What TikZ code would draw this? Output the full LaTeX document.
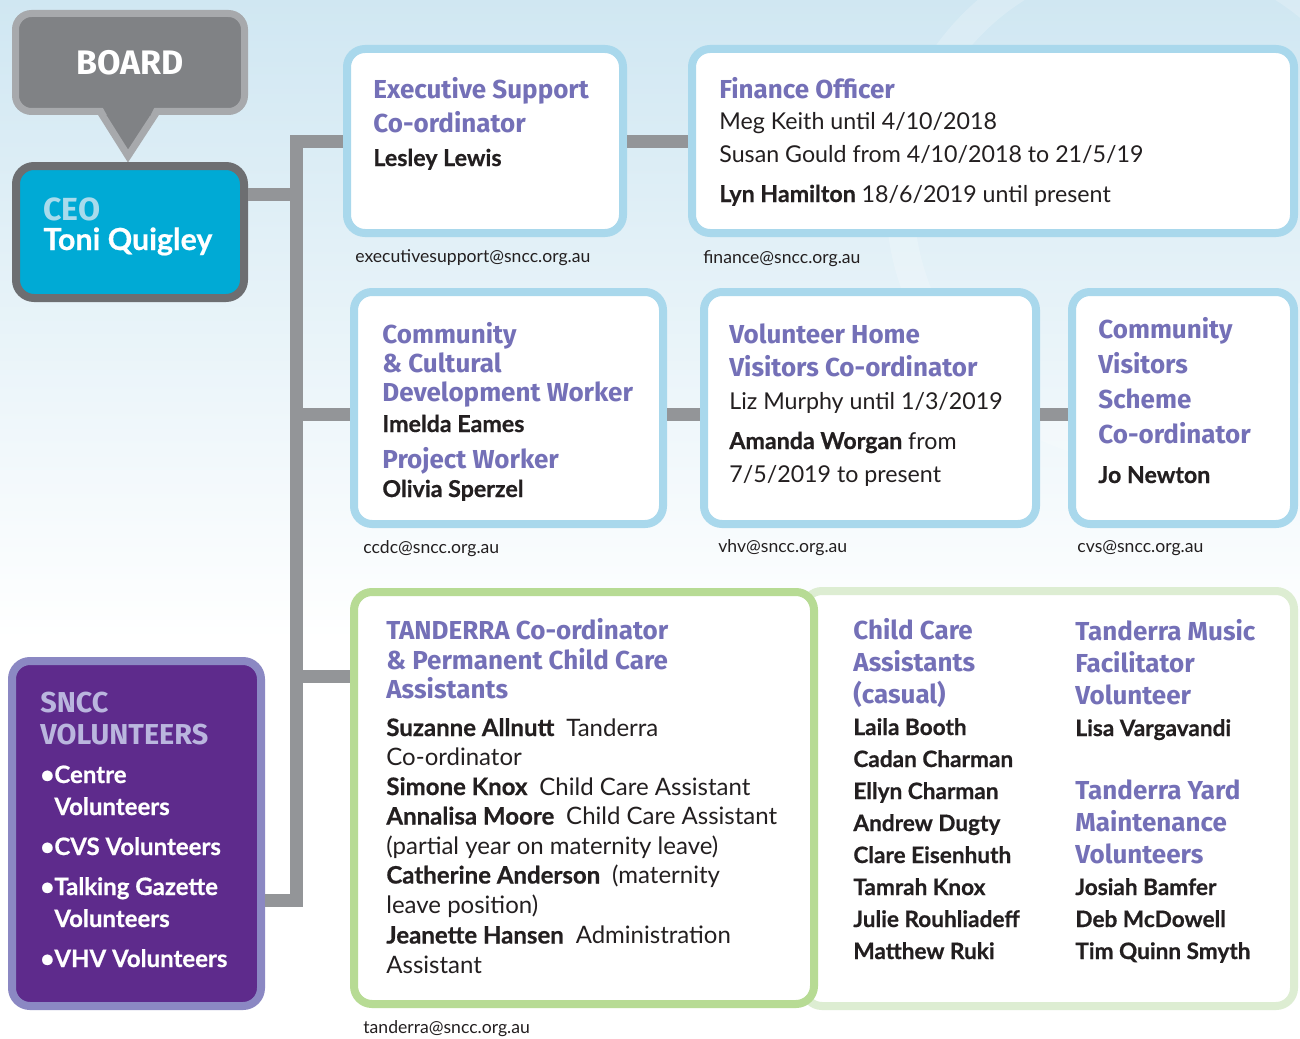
\documentclass[tikz,border=0pt]{standalone}
\usepackage{fontspec}
\setmainfont{Lato}[BoldFeatures={FakeBold=0.6}]
\newfontfamily\headfont{Fira Sans}
\usetikzlibrary{calc}

\definecolor{bgtop}{HTML}{D0E7F2}
\definecolor{boxblue}{HTML}{A9D8EC}
\definecolor{linkgray}{HTML}{939598}
\definecolor{rolepurple}{HTML}{7470B7}
\definecolor{ink}{HTML}{231F20}
\definecolor{ceoblue}{HTML}{00AAD5}
\definecolor{ceogray}{HTML}{6D6E71}
\definecolor{ceolabel}{HTML}{A9DBEC}
\definecolor{boardfill}{HTML}{808285}
\definecolor{boardrim}{HTML}{A7A9AC}
\definecolor{tgreen}{HTML}{B7DB94}
\definecolor{tlight}{HTML}{DDEDD2}
\definecolor{volpurple}{HTML}{5E2B8C}
\definecolor{volrim}{HTML}{8B88C3}
\definecolor{vollabel}{HTML}{BAB6DE}

\tikzset{
  link/.style={draw=linkgray, line width=6.5pt},
  rolebox/.style={draw=boxblue, line width=4pt, fill=white, rounded corners=9pt, inner sep=0pt},
  teambox/.style={rolebox, draw=tgreen},
  casualbox/.style={rolebox, draw=tlight},
  ceobox/.style={rolebox, draw=ceogray, fill=ceoblue},
  volbox/.style={rolebox, draw=volrim, fill=volpurple},
  boardbox/.style={rolebox, line width=3.5pt, draw=boardrim, fill=boardfill, rounded corners=8pt},
  % a multi-line block's base is its last line, so each block is placed there
  entry/.style={anchor=base west, inner sep=0pt, align=left, text=ink,
                font=\fontsize{11.6}{#1}\selectfont},
  entry/.default=16pt,
  roster/.style={entry=16pt, font=\bfseries\fontsize{11.3}{16}\selectfont},
  mail/.style={anchor=base west, inner sep=0pt, text=ink, font=\fontsize{8.8}{10}\selectfont},
}
\newcommand{\hdc}[2]{{\headfont\bfseries\fontsize{13}{15}\selectfont\color{#1}#2}}
\newcommand{\hd}[1]{\hdc{rolepurple}{#1}}
\newcommand{\nm}[1]{{\bfseries #1}}
\newcommand{\bul}{\makebox[7pt][l]{\textbullet}}

\begin{document}
\begin{tikzpicture}[x=0.5pt, y=-0.5pt]
  \useasboundingbox (0,0) rectangle (1300,1038);

  % backdrop: pale blue fading out, with a faint ring behind the top row
  \fill[white] (0,0) rectangle (1300,1038);
  \shade[top color=bgtop, bottom color=white] (0,0) rectangle (1300,640);
  \draw[white, opacity=0.2, line width=14pt] (1150,200) circle (250);

  % --- board and CEO ---------------------------------------------------------
  \filldraw[draw=boardrim, fill=boardfill, line width=3.5pt] (100,111.5) -- (128,156) -- (157,111.5);
  \node[boardbox, minimum width=114.5pt, minimum height=49pt] (board) at (130,62.5) {};
  \fill[boardfill] (102.5,107) -- (154.5,107) -- (150,116) -- (107.5,116) -- cycle;
  \node[font=\headfont\bfseries\fontsize{17}{17}\selectfont, text=white] (boardtxt) at (board.center) {BOARD};

  \node[ceobox, minimum width=114pt, minimum height=66pt] (ceo) at (130,232) {};

  % --- staff boxes -----------------------------------------------------------
  \node[rolebox, minimum width=138pt, minimum height=92pt] (exec) at (485,141) {};
  \node[rolebox, minimum width=301pt, minimum height=92pt] (fin) at (993,141) {};
  \node[rolebox, minimum width=154.5pt, minimum height=116pt] (ccdc) at (508.5,408) {};
  \node[rolebox, minimum width=166pt, minimum height=116pt] (vhv) at (870,408) {};
  \node[rolebox, minimum width=111pt, minimum height=116pt] (cvs) at (1183,408) {};
  \node[casualbox, minimum width=245pt, minimum height=207.5pt] (casual) at (1049,798.5) {};
  \node[teambox, minimum width=230pt, minimum height=206pt] (tand) at (584,798) {};
  \node[volbox, minimum width=124.5pt, minimum height=172.5pt] (vol) at (136.5,833.5) {};

  % --- reporting lines ---------------------------------------------------------
  \coordinate (jceo)  at (296.5,194);
  \coordinate (jccdc) at (296.5,414.5);
  \coordinate (jtand) at (296.5,676);
  \coordinate (jvol)  at (296.5,900);
  \draw[link] (exec.west) -| (jvol) -- (jvol -| vol.east);
  \draw[link] (jceo) -- (jceo -| ceo.east);
  \draw[link] (jccdc) -- (jccdc -| ccdc.west);
  \draw[link] (jtand) -- (jtand -| tand.west);
  \draw[link] (exec.east) -- (fin.west);
  \draw[link] (ccdc.east |- jccdc) -- (vhv.west |- jccdc);
  \draw[link] (vhv.east |- jccdc) -- (cvs.west |- jccdc);

  % --- texts -------------------------------------------------------------------
  \node[entry=15pt, text=white, font=\bfseries\fontsize{15.2}{15}\selectfont] (ceotxt) at (43,250)
    {{\headfont\fontsize{16}{16}\selectfont\color{ceolabel}CEO}\\Toni Quigley};

  \node[entry=17pt] (exectxt) at (373,166) {\hd{Executive Support}\\\hd{Co-ordinator}\\\nm{Lesley Lewis}};
  \node[mail] (execmail) at (355,262) {executivesupport@sncc.org.au};

  \node[entry=16pt] (fintxt) at (719,202) {\hd{Finance Officer}\\Meg Keith until 4/10/2018\\
    Susan Gould from 4/10/2018 to 21/5/19\\[4pt]\nm{Lyn Hamilton} 18/6/2019 until present};
  \node[mail] (finmail) at (703,263) {finance@sncc.org.au};

  \node[entry=14.5pt] (ccdctxt) at (382,497) {\hd{Community}\\\hd{\& Cultural}\\\hd{Development Worker}\\[1pt]
    \nm{Imelda Eames}\\[3.5pt]\hd{Project Worker}\\\nm{Olivia Sperzel}};
  \node[mail] (ccdcmail) at (363,553) {ccdc@sncc.org.au};

  \node[entry=16.5pt] (vhvtxt) at (729,482) {\hd{Volunteer Home}\\\hd{Visitors Co-ordinator}\\
    Liz Murphy until 1/3/2019\\[3.5pt]\nm{Amanda Worgan} from\\7/5/2019 to present};
  \node[mail] (vhvmail) at (718,552) {vhv@sncc.org.au};

  \node[entry=17.5pt] (cvstxt) at (1098,483) {\hd{Community}\\\hd{Visitors}\\\hd{Scheme}\\\hd{Co-ordinator}\\[2.5pt]\nm{Jo Newton}};
  \node[mail] (cvsmail) at (1077,552) {cvs@sncc.org.au};

  \node[entry=14.75pt, font=\fontsize{12}{14.75}\selectfont] (tandtxt) at (386,973)
    {\hd{TANDERRA Co-ordinator}\\\hd{\& Permanent Child Care}\\\hd{Assistants}\\[4pt]
    \nm{Suzanne Allnutt}\enspace Tanderra\\Co-ordinator\\
    \nm{Simone Knox}\enspace Child Care Assistant\\
    \nm{Annalisa Moore}\enspace Child Care Assistant\\
    (partial year on maternity leave)\\
    \nm{Catherine Anderson}\enspace (maternity\\leave position)\\[0.5pt]
    \nm{Jeanette Hansen}\enspace Administration\\Assistant};
  \node[mail] (tandmail) at (363,1033) {tanderra@sncc.org.au};

  \node[roster] (casualtxt) at (853,959) {\hd{Child Care}\\\hd{Assistants}\\\hd{(casual)}\\
    Laila Booth\\Cadan Charman\\Ellyn Charman\\Andrew Dugty\\Clare Eisenhuth\\
    Tamrah Knox\\Julie Rouhliadeff\\Matthew Ruki};
  \node[roster] (musictxt) at (1075,959) {\hd{Tanderra Music}\\\hd{Facilitator}\\\hd{Volunteer}\\
    Lisa Vargavandi\\[15.5pt]\hd{Tanderra Yard}\\\hd{Maintenance}\\\hd{Volunteers}\\
    Josiah Bamfer\\Deb McDowell\\Tim Quinn Smyth};

  \node[entry=16pt, text=white, font=\bfseries\fontsize{12}{16}\selectfont] (voltxt) at (40,967)
    {{\headfont\fontsize{14.4}{16}\selectfont\color{vollabel}SNCC}\\
     {\headfont\fontsize{14.4}{16}\selectfont\color{vollabel}VOLUNTEERS}\\[3.5pt]
     \bul Centre\\\hspace*{7pt}Volunteers\\[4pt]
     \bul CVS Volunteers\\[4pt]
     \bul Talking Gazette\\\hspace*{7pt}Volunteers\\[4pt]
     \bul VHV Volunteers};
\end{tikzpicture}
\end{document}
